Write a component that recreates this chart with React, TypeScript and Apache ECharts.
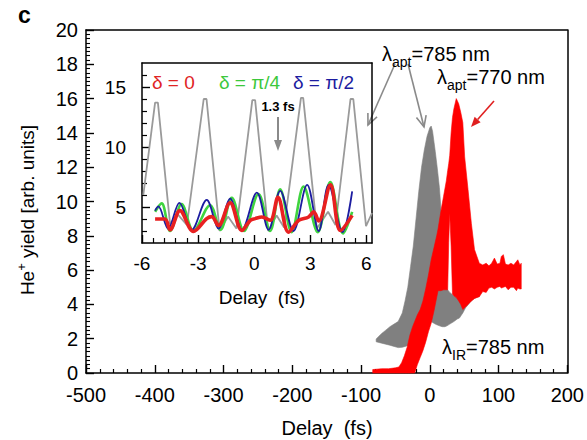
import { useEffect, useRef } from 'react';
import * as echarts from 'echarts';

const FONT = '"Liberation Sans", Arial, Helvetica, sans-serif';
const TICK = '#000000';

// ---------- main panel: envelopes of the fast-oscillating He+ yield traces ----------
// gray trace (lambda_apt = 785 nm)
const grayDelay = [-78, -74, -70, -64, -58, -52, -46, -40, -36, -32, -28, -24, -20, -16, -12, -8, -4, 0, 2, 4, 8, 11, 14, 18, 22, 25, 29, 35, 40, 43, 48, 52, 56, 60, 65, 70, 72];
const grayLower = [1.82, 1.78, 1.74, 1.68, 1.62, 1.55, 1.48, 1.5, 1.55, 1.6, 1.68, 1.8, 1.95, 2.1, 2.3, 2.5, 2.7, 2.95, 3.0, 2.95, 2.85, 2.8, 2.75, 2.7, 2.7, 2.75, 2.85, 3.0, 3.15, 3.2, 3.5, 3.8, 4.0, 4.2, 4.35, 4.45, 4.45];
const grayUpper = [1.98, 2.15, 2.3, 2.5, 2.7, 2.85, 3.0, 3.5, 4.2, 5.0, 6.2, 7.4, 9.0, 10.6, 12.0, 13.0, 13.8, 14.3, 14.4, 14.1, 12.9, 11.9, 10.8, 8.6, 6.2, 4.9, 4.7, 4.5, 4.4, 4.4, 4.4, 4.45, 4.6, 5.0, 5.8, 6.5, 4.6];

// red trace (lambda_apt = 770 nm)
const redDelay = [-83, -70, -60, -50, -45, -41, -37, -33, -29, -25, -22, -18, -14, -10, -6, -2, 2, 6, 10, 12, 16, 20, 24, 26, 27.5, 29, 31, 33, 35, 38.5, 42, 45, 48, 50.7, 55.6, 60.5, 65, 72, 77, 82, 86, 90, 94, 98, 102, 104, 107, 110, 114, 118, 122, 126, 128, 131, 133];
const redLower = [0, 0, 0, 0, 0, 0, 0, 0, 0, 0, 0, 0.5, 0.9, 1.3, 1.8, 2.4, 2.9, 3.6, 4.4, 4.8, 4.8, 4.85, 4.85, 4.85, 7.6, 9.3, 7.4, 4.6, 4.5, 4.4, 4.2, 4.0, 3.7, 3.8, 4.0, 4.2, 4.35, 4.45, 4.75, 4.7, 4.95, 5.0, 4.9, 5.0, 5.05, 4.95, 5.0, 5.05, 4.85, 5.0, 5.0, 4.8, 4.95, 4.9, 4.9];
const redUpper = [0.2, 0.25, 0.25, 0.3, 0.35, 0.6, 1.0, 1.5, 2.2, 2.7, 3.0, 3.4, 3.7, 4.2, 4.9, 5.7, 6.6, 7.3, 8.0, 8.4, 9.4, 10.3, 11.2, 11.8, 12.2, 12.7, 14.0, 14.9, 15.4, 16.0, 15.7, 15.2, 14.6, 12.6, 10.7, 8.7, 7.2, 6.4, 6.3, 6.4, 6.25, 6.4, 6.7, 6.35, 6.4, 6.8, 6.9, 6.35, 6.3, 6.4, 6.3, 6.5, 6.6, 6.3, 6.4];

// ---------- inset: a few optical cycles around zero delay ----------
const insetGrayX = [-5.93, -5.3, -5.15, -4.5, -4.1, -3.6, -2.7, -2.55, -1.85, -1.4, -0.95, -0.1, 0.05, 0.75, 1.2, 1.6, 2.5, 2.62, 3.35, 3.95, 4.35, 5.15, 5.3, 5.98, 6.3];
const insetGrayY = [6.0, 13.7, 13.7, 3.6, 4.4, 3.5, 14.0, 14.0, 3.0, 4.2, 3.2, 13.9, 13.9, 3.0, 4.3, 3.3, 14.1, 14.1, 3.2, 4.6, 3.5, 14.0, 14.0, 3.4, 4.5];

const bluePi2X = [-5.3, -5.13, -4.6, -4.0, -3.34, -2.54, -1.91, -1.29, -0.66, 0.14, 0.77, 1.39, 2.1, 2.83, 3.45, 3.98, 4.72, 5.24];
const bluePi2Y = [4.7, 5.05, 3.2, 5.35, 3.1, 5.6, 3.2, 5.7, 3.1, 6.2, 3.1, 6.35, 3.0, 6.85, 3.0, 6.85, 2.9, 6.3];

const greenPi4X = [-5.3, -4.95, -4.5, -3.88, -3.25, -2.36, -1.8, -1.2, -0.55, 0.23, 0.85, 1.39, 2.0, 2.64, 3.4, 4.07, 4.75, 5.24];
const greenPi4Y = [4.6, 5.3, 3.0, 5.24, 3.0, 5.15, 3.1, 5.77, 3.0, 6.08, 3.0, 6.47, 2.9, 6.7, 2.9, 7.07, 2.8, 4.6];

const redZeroX = [-5.3, -4.77, -4.5, -3.97, -3.25, -2.54, -2.27, -1.91, -1.29, -0.66, -0.21, 0.05, 0.41, 0.86, 1.27, 1.84, 2.38, 2.91, 3.18, 3.45, 4.08, 4.61, 5.24];
const redZeroY = [4.0, 4.0, 3.1, 4.7, 2.96, 4.03, 4.2, 3.46, 5.35, 3.04, 3.89, 4.03, 4.17, 3.89, 5.8, 2.9, 3.89, 4.17, 4.59, 3.83, 6.84, 3.04, 4.3];

const insetXMajor = [-6, -3, 0, 3, 6];
const insetXMinor = [-5.4, -4.8, -4.2, -3.6, -2.4, -1.8, -1.2, -0.6, 0.6, 1.2, 1.8, 2.4, 3.6, 4.2, 4.8, 5.4];
const insetYMajor = [5, 10, 15];
const insetYMinor = [3, 4, 6, 7, 8, 9, 11, 12, 13, 14, 16];

const pairs = (xs: number[], ys: number[]) => xs.map((x, i) => [x, ys[i]]);

function bandSeries(name: string, delays: number[], lower: number[], upper: number[], color: string, z: number) {
  return {
    type: 'custom', name, xAxisIndex: 0, yAxisIndex: 0, silent: true, z,
    data: delays.map((d, i) => [d, lower[i], upper[i]]),
    encode: { x: 0, y: [1, 2] },
    renderItem: (params: any, api: any) => {
      if (params.dataIndex !== 0) return null;
      const pts: number[][] = [];
      for (let i = 0; i < delays.length; i++) pts.push(api.coord([delays[i], upper[i]]));
      for (let i = delays.length - 1; i >= 0; i--) pts.push(api.coord([delays[i], lower[i]]));
      return { type: 'polygon', shape: { points: pts }, style: { fill: color, stroke: color, lineWidth: 0.6 } };
    },
  };
}

function arrow(x1: number, y1: number, x2: number, y2: number, color: string, width: number, headLen: number, headHalf: number, filled: boolean) {
  const dx = x2 - x1, dy = y2 - y1;
  const L = Math.sqrt(dx * dx + dy * dy);
  const ux = dx / L, uy = dy / L;
  const bx = x2 - ux * headLen, by = y2 - uy * headLen;
  const px = -uy * headHalf, py = ux * headHalf;
  const head = filled
    ? { type: 'polygon', shape: { points: [[x2, y2], [bx + px, by + py], [bx - px, by - py]] }, style: { fill: color } }
    : { type: 'polyline', shape: { points: [[bx + px, by + py], [x2, y2], [bx - px, by - py]] }, style: { stroke: color, lineWidth: width, fill: null } };
  const shaftEnd = filled ? [bx, by] : [x2, y2];
  return {
    type: 'group', silent: true, z: 100,
    children: [{ type: 'line', shape: { x1, y1, x2: shaftEnd[0], y2: shaftEnd[1] }, style: { stroke: color, lineWidth: width } }, head],
  };
}

function txt(text: string, x: number, y: number, size: number, opts: any = {}) {
  return {
    type: 'text', x, y, z: 100, silent: true, rotation: opts.rotation || 0,
    style: {
      text, fill: opts.color || '#000', fontSize: size, fontFamily: opts.family || FONT,
      fontWeight: opts.bold ? 'bold' : 'normal', align: opts.align || 'left', verticalAlign: opts.vAlign || 'middle', rich: opts.rich,
    },
  };
}

const lamRich = {
  m: { fontSize: 20, fontFamily: FONT, fill: '#000' },
  s: { fontSize: 14, fontFamily: FONT, fill: '#000', padding: [16, 0, 0, 0] },
};

const axisBlack = { color: '#000', width: 1.5 };
const frame = (gridIndex: number, position: string, min: number, max: number) => ({
  gridIndex, type: 'value', position, min, max,
  axisLine: { show: true, onZero: false, lineStyle: axisBlack },
  axisTick: { show: false }, axisLabel: { show: false }, splitLine: { show: false },
});

export default function App() {
  const ref = useRef<HTMLDivElement>(null);
  useEffect(() => {
    const chart = echarts.init(ref.current!, null, { renderer: 'svg' });
    const option: any = {
      animation: false,
      grid: [
        { left: 86, right: 19, top: 30, bottom: 67 },
        { left: 142, right: 215, top: 63, bottom: 197 },
      ],
      xAxis: [
        {
          gridIndex: 0, type: 'value', position: 'bottom', min: -500, max: 200, interval: 100,
          axisLine: { show: true, onZero: false, lineStyle: axisBlack },
          axisTick: { show: true, inside: true, length: 8, lineStyle: { color: TICK, width: 1.4 } },
          minorTick: { show: true, splitNumber: 5, length: 4, lineStyle: { color: TICK, width: 1.2 } },
          splitLine: { show: false },
          axisLabel: { color: '#000', fontSize: 20, fontFamily: FONT, margin: 12, showMinLabel: true, showMaxLabel: true },
        },
        {
          gridIndex: 1, type: 'value', min: -6, max: 6.3, position: 'bottom',
          axisLine: { show: true, onZero: false, lineStyle: axisBlack },
          axisTick: { show: true, inside: true, length: 8, customValues: insetXMajor, lineStyle: { color: TICK, width: 1.4 } },
          splitLine: { show: false },
          axisLabel: { customValues: insetXMajor, color: '#000', fontSize: 19, fontFamily: FONT, margin: 11 },
        },
        {
          gridIndex: 1, type: 'value', min: -6, max: 6.3, position: 'bottom',
          axisLine: { show: false, onZero: false },
          axisTick: { show: true, inside: true, length: 5, customValues: insetXMinor, lineStyle: { color: TICK, width: 1.2 } },
          splitLine: { show: false },
          axisLabel: { show: false },
        },
        frame(0, 'top', -500, 200),
        frame(1, 'top', -6, 6.3),
      ],
      yAxis: [
        {
          gridIndex: 0, type: 'value', position: 'left', min: 0, max: 20, interval: 2,
          axisLine: { show: true, onZero: false, lineStyle: axisBlack },
          axisTick: { show: true, inside: true, length: 8, lineStyle: { color: TICK, width: 1.4 } },
          minorTick: { show: true, splitNumber: 8, length: 4, lineStyle: { color: TICK, width: 1.1 } },
          splitLine: { show: false },
          axisLabel: { color: '#000', fontSize: 20, fontFamily: FONT, margin: 8, showMinLabel: true, showMaxLabel: true },
        },
        {
          gridIndex: 1, type: 'value', min: 2, max: 17, position: 'left',
          axisLine: { show: true, onZero: false, lineStyle: axisBlack },
          axisTick: { show: true, inside: true, length: 8, customValues: insetYMajor, lineStyle: { color: TICK, width: 1.4 } },
          splitLine: { show: false },
          axisLabel: { customValues: insetYMajor, color: '#000', fontSize: 19, fontFamily: FONT, margin: 16 },
        },
        {
          gridIndex: 1, type: 'value', min: 2, max: 17, position: 'left',
          axisLine: { show: false, onZero: false },
          axisTick: { show: true, inside: true, length: 5, customValues: insetYMinor, lineStyle: { color: TICK, width: 1.2 } },
          splitLine: { show: false },
          axisLabel: { show: false },
        },
        frame(0, 'right', 0, 20),
        frame(1, 'right', 2, 17),
      ],
      series: [
        bandSeries('λapt=785 nm', grayDelay, grayLower, grayUpper, '#808080', 2),
        bandSeries('λapt=770 nm', redDelay, redLower, redUpper, '#ff0000', 3),
        { type: 'line', name: 'inset λapt=785 nm', xAxisIndex: 1, yAxisIndex: 1, data: pairs(insetGrayX, insetGrayY), showSymbol: false, symbol: 'none', lineStyle: { color: '#9a9a9a', width: 1.8 }, z: 5, silent: true },
        { type: 'line', name: 'δ = π/4', xAxisIndex: 1, yAxisIndex: 1, data: pairs(greenPi4X, greenPi4Y), smooth: 0.35, showSymbol: false, symbol: 'none', lineStyle: { color: '#3fd43f', width: 2.6 }, z: 6, silent: true },
        { type: 'line', name: 'δ = π/2', xAxisIndex: 1, yAxisIndex: 1, data: pairs(bluePi2X, bluePi2Y), smooth: 0.35, showSymbol: false, symbol: 'none', lineStyle: { color: '#1c1ca0', width: 1.8 }, z: 7, silent: true },
        { type: 'line', name: 'δ = 0', xAxisIndex: 1, yAxisIndex: 1, data: pairs(redZeroX, redZeroY), smooth: 0.35, showSymbol: false, symbol: 'none', lineStyle: { color: '#e82020', width: 3.6 }, z: 8, silent: true },
      ],
      graphic: [
        txt('c', 18, 15, 23, { bold: true }),
        txt('{m|He}{p|+}{m| yield [arb. units]}', 27, 210, 19, {
          rotation: Math.PI / 2, align: 'center',
          rich: { m: { fontSize: 19, fontFamily: FONT, fill: '#000' }, p: { fontSize: 13, fontFamily: FONT, fill: '#000', padding: [0, 0, 12, 0] } },
        }),
        txt('Delay  (fs)', 327, 428, 20, { align: 'center' }),
        txt('Delay  (fs)', 262, 297, 19, { align: 'center' }),
        txt('δ = 0', 152, 82, 19, { color: '#e02424' }),
        txt('δ = π/4', 219, 82, 19, { color: '#3cc83c' }),
        txt('δ = π/2', 293, 82, 19, { color: '#1c1ca0' }),
        txt('1.3 fs', 278, 106, 13, { align: 'center', bold: true }),
        arrow(278, 117, 278, 151, '#8a8a8a', 2, 11, 4, true),
        txt('{m|λ}{s|apt}{m|=785 nm}', 382, 54, 20, { rich: lamRich }),
        txt('{m|λ}{s|apt}{m|=770 nm}', 437, 77, 20, { rich: lamRich }),
        txt('{m|λ}{s|IR}{m|=785 nm}', 442, 347, 20, { rich: lamRich }),
        arrow(395, 64, 368, 125, '#8a8a8a', 1.6, 11, 5, false),
        arrow(408, 64, 424, 127, '#8a8a8a', 1.6, 11, 5, false),
        arrow(494, 101, 471, 127, '#e02020', 1.6, 10, 4, true),
      ],
    };
    chart.setOption(option);
    return () => chart.dispose();
  }, []);
  return <div ref={ref} style={{ position: 'absolute', left: 0, top: 0, width: 587, height: 440 }} />;
}
